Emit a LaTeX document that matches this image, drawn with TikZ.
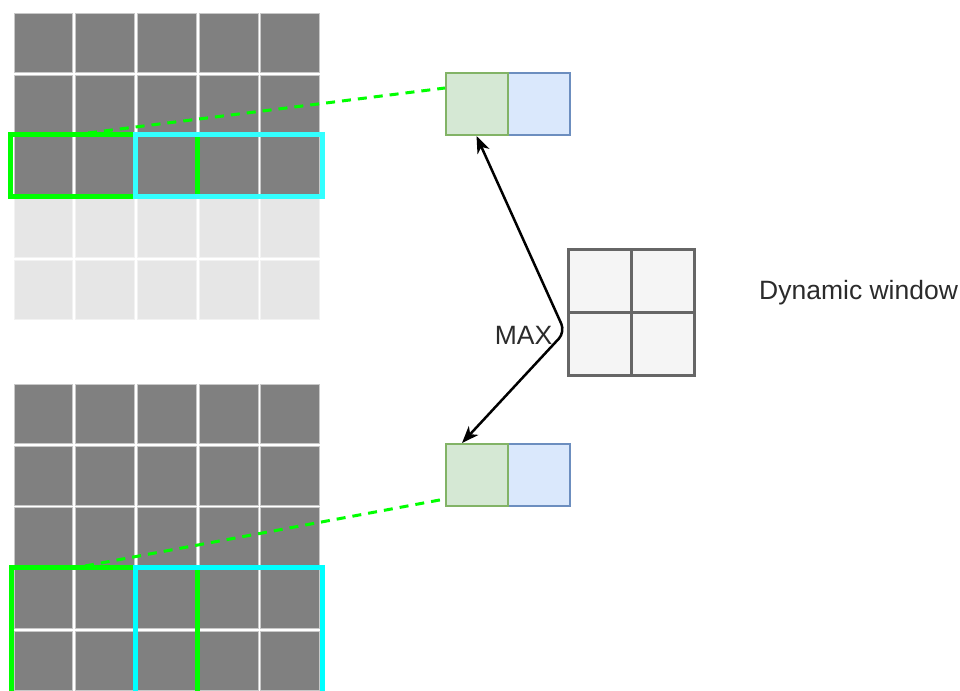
\documentclass[tikz,border=0pt]{standalone}
\usepackage{fontspec}
\setmainfont{Liberation Sans}
\usetikzlibrary{arrows.meta,calc}
\definecolor{celldark}{HTML}{808080}
\definecolor{celldarkedge}{HTML}{C8C8C8}
\definecolor{celllight}{HTML}{E6E6E6}
\definecolor{celllightedge}{HTML}{F2F2F2}
\definecolor{hlgreen}{HTML}{00FF00}
\definecolor{hlcyanA}{HTML}{33FFFF}
\definecolor{hlcyanB}{HTML}{00FFFF}
\definecolor{pgreenfill}{HTML}{D5E8D4}
\definecolor{pgreenline}{HTML}{82B366}
\definecolor{pbluefill}{HTML}{DAE8FC}
\definecolor{pblueline}{HTML}{6C8EBF}
\definecolor{winfill}{HTML}{F5F5F5}
\definecolor{winline}{HTML}{666666}
\definecolor{txt}{HTML}{2B2B2B}
\tikzset{
  darkcell/.style={fill=celldark, draw=celldarkedge, line width=0.8pt},
  lightcell/.style={fill=celllight, draw=celllightedge, line width=0.8pt},
  greenbox/.style={draw=hlgreen, line width=5pt},
  cyanbox/.style={line width=5pt},
  pixsq/.style={rectangle, minimum size=62pt, inner sep=0pt, line width=2pt},
  pgreen/.style={pixsq, fill=pgreenfill, draw=pgreenline},
  pblue/.style={pixsq, fill=pbluefill, draw=pblueline},
  wincell/.style={rectangle, minimum size=63pt, inner sep=0pt, fill=winfill, draw=winline, line width=2.2pt},
  dashlink/.style={draw=hlgreen, line width=3pt, dash pattern=on 9pt off 7pt},
  maxarrow/.style={draw=black, line width=2.5pt, rounded corners=9pt,
    {Stealth[length=17pt,width=13pt,inset=5pt]}-{Stealth[length=17pt,width=13pt,inset=5pt]}},
  label/.style={text=txt, font=\fontsize{26.5}{31}\selectfont, inner sep=0pt}
}
\begin{document}
\begin{tikzpicture}[x=1pt,y=-1pt]
\useasboundingbox (0,0) rectangle (960,690);
\clip (0,0) rectangle (960,690);

% upper feature map: three dark rows over two light rows
\foreach \i in {0,...,4}{
  \foreach \j in {0,...,2}{
    \draw[darkcell] ({12.5+61.7*\i+1.4},{12+61.7*\j+1.4}) rectangle +(58.9,58.9);
  }
  \foreach \j in {3,4}{
    \draw[lightcell] ({12.5+61.7*\i+1.4},{12+61.7*\j+1.4}) rectangle +(58.9,58.9);
  }
}
% lower feature map: five dark rows
\foreach \i in {0,...,4}{
  \foreach \j in {0,...,4}{
    \draw[darkcell] ({12.5+61.7*\i+1.4},{383+61.7*\j+1.4}) rectangle +(58.9,58.9);
  }
}

% pooling windows on the feature maps
\draw[greenbox] (10.5,134) rectangle (197.5,196);
\draw[cyanbox, draw=hlcyanA] (135.5,134) rectangle (322,196);
\draw[greenbox] (11,567.5) rectangle (197.5,710);
\draw[cyanbox, draw=hlcyanB] (135.5,567.5) rectangle (322,710);

% pooled outputs (blue drawn first so the shared edge stays green)
\node[pblue] (tb) at (538.5,104) {};
\node[pgreen] (tg) at (476.5,104) {};
\node[pblue] (bb) at (538.5,474.5) {};
\node[pgreen] (bg) at (476.5,474.5) {};

% dynamic 2x2 window
\node[wincell] (w11) at (600,281) {};
\node[wincell] (w12) at (663,281) {};
\node[wincell] (w21) at (600,344) {};
\node[wincell] (w22) at (663,344) {};

\node[label, anchor=west] (dyn) at (759,293) {Dynamic window};
\node[label] (max) at (523.5,335) {MAX};

% projection lines from the windows to their outputs
\coordinate (topsrc) at (88,133);
\coordinate (topdst) at (445,88);
\coordinate (botsrc) at (85,566);
\coordinate (botdst) at (445,499);
\draw[dashlink] (topsrc) -- (topdst);
\draw[dashlink] (botsrc) -- (botdst);

% max operation feeding both outputs
\coordinate (bend) at (565,332);
\coordinate (bgin) at (462,443);
\draw[maxarrow] (tg.south) -- (bend) -- (bgin);
\end{tikzpicture}
\end{document}
